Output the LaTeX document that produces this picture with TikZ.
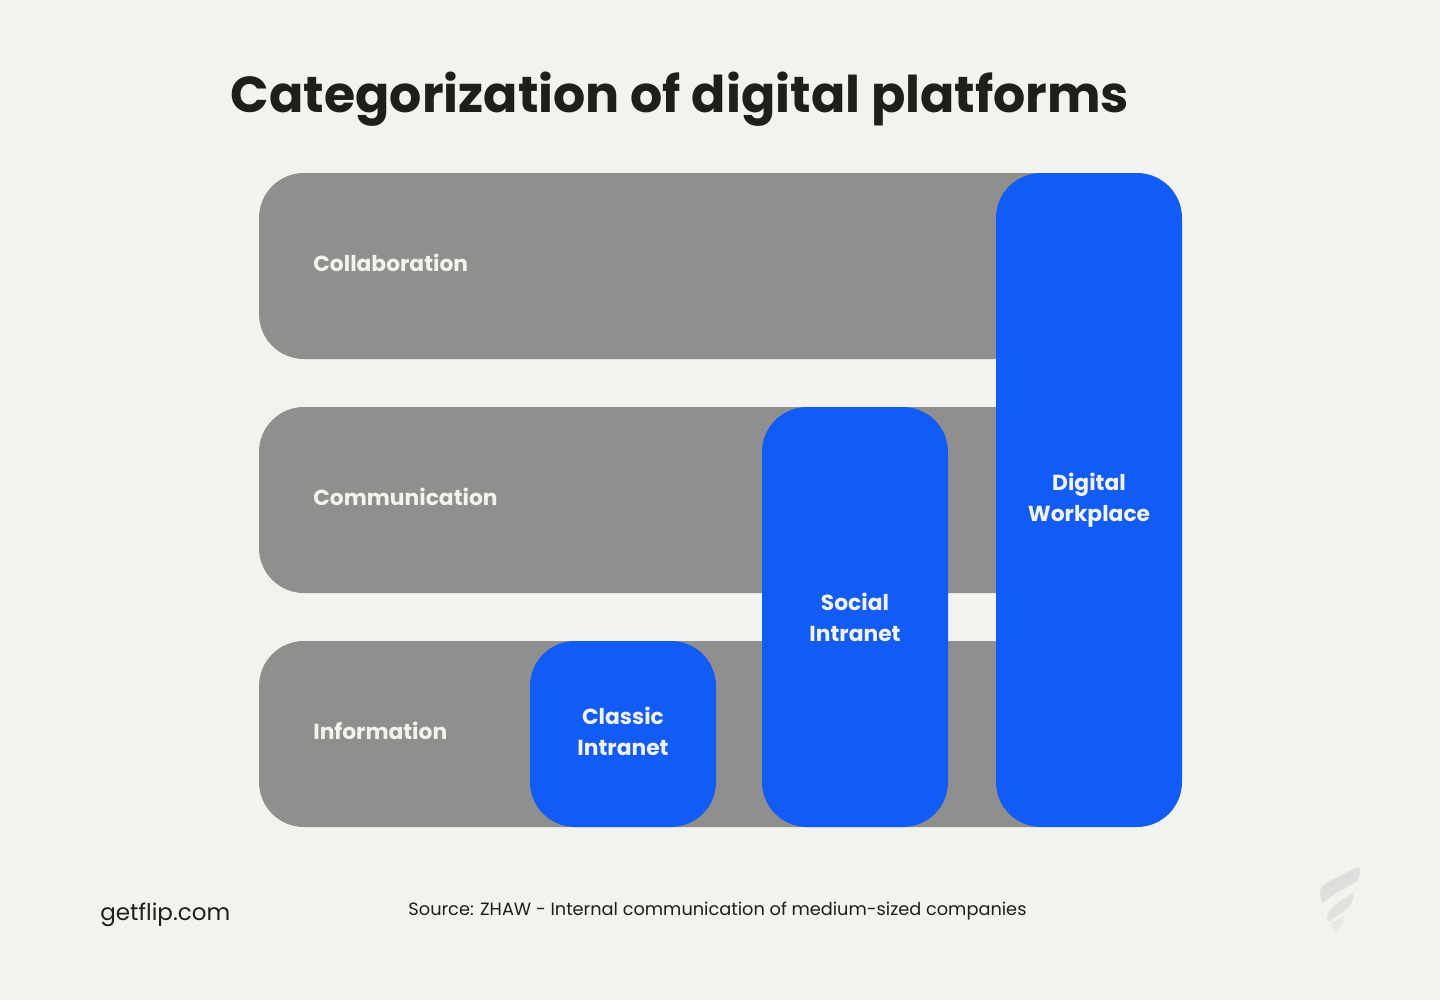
\documentclass[tikz,border=0pt]{standalone}
\usepackage{fontspec}
\setmainfont{Poppins}
\usetikzlibrary{positioning}
\definecolor{pagebg}{HTML}{F2F3EF}
\definecolor{barcol}{HTML}{8F8F8D}
\definecolor{platcol}{HTML}{135BF5}
\definecolor{inkcol}{HTML}{1E1F1B}
\definecolor{logocol}{HTML}{DEDFDC}
\tikzset{
bar/.style={fill=barcol,rounded corners=0.9cm,minimum width=16.6cm,minimum height=3.72cm,inner sep=0pt,outer sep=0pt},
plat/.style={fill=platcol,rounded corners=0.9cm,minimum width=3.72cm,text=pagebg,align=center,inner sep=0pt,outer sep=0pt,font=\fontsize{12.4}{17.6}\selectfont\bfseries},
barlabel/.style={text=pagebg,inner sep=0pt,font=\fontsize{12.4}{17.6}\selectfont\bfseries},
}
\begin{document}
\begin{tikzpicture}
\fill[pagebg] (0,0) rectangle (28.8,-20);
\useasboundingbox (0,0) rectangle (28.8,-20);

\node[inkcol,inner sep=0pt,font=\fontsize{28.8}{36}\selectfont\bfseries](title) at (13.6,-1.98){Categorization of digital platforms};

\node[bar,anchor=north west](collab) at (5.18,-3.46){};
\node[bar,below=0.96cm of collab](commu){};
\node[bar,below=0.96cm of commu](info){};

\node[barlabel,anchor=west](collabl) at (6.26,-5.25){Collaboration};
\node[barlabel,anchor=west](commul) at (6.26,-9.94){Communication};
\node[barlabel,anchor=west](infol) at (6.26,-14.61){Information};

\node[plat,minimum height=3.72cm,text depth=0.12cm,anchor=south west](classic) at (10.6,-16.54){Classic\\Intranet};
\node[plat,minimum height=8.4cm,text depth=-0.08cm,anchor=south west](social) at (15.24,-16.54){Social\\Intranet};
\node[plat,minimum height=13.08cm,anchor=south west](digital) at (19.92,-16.54){Digital\\Workplace};

\node[inkcol,inner sep=0pt,anchor=west,font=\fontsize{13.1}{16}\selectfont](site) at (2,-18.3){getflip.com};
\node[inkcol,inner sep=0pt,font=\fontsize{10.1}{14}\selectfont](source) at (14.35,-18.22){Source: ZHAW - Internal communication of medium-sized companies};

% logo
\fill[logocol] (26.4,-17.86) .. controls (26.4,-17.74) and (26.46,-17.7) .. (26.56,-17.64) -- (27.18,-17.33) .. controls (27.2,-17.4) and (27.2,-17.5) .. (27.18,-17.56) .. controls (27.1,-17.68) and (26.95,-17.72) .. (26.7,-17.88) .. controls (26.6,-17.94) and (26.5,-18.02) .. (26.46,-18.05) .. controls (26.42,-18) and (26.4,-17.92) .. (26.4,-17.86) -- cycle;
\fill[logocol!85!pagebg] (26.54,-18.36) .. controls (26.56,-18.2) and (26.66,-18.12) .. (26.8,-18.02) .. controls (26.9,-17.94) and (27,-17.9) .. (27.05,-17.86) .. controls (27.08,-17.98) and (27.05,-18.06) .. (26.98,-18.14) .. controls (26.85,-18.26) and (26.7,-18.32) .. (26.6,-18.42) .. controls (26.56,-18.42) and (26.54,-18.4) .. (26.54,-18.36) -- cycle;
\fill[logocol!55!pagebg] (26.63,-18.44) .. controls (26.72,-18.42) and (26.8,-18.38) .. (26.87,-18.33) .. controls (26.86,-18.5) and (26.8,-18.58) .. (26.72,-18.64) .. controls (26.66,-18.6) and (26.63,-18.52) .. (26.63,-18.44) -- cycle;
\end{tikzpicture}
\end{document}
